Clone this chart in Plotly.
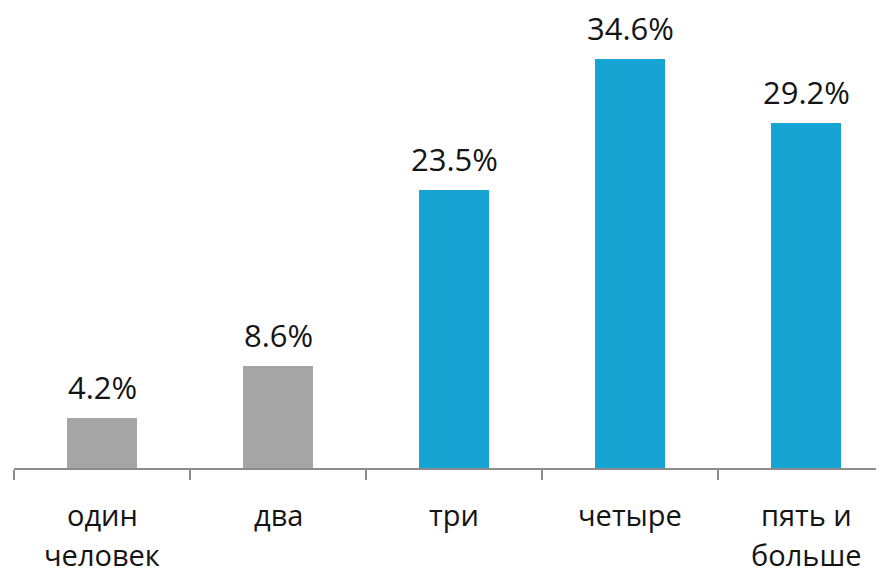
import plotly.graph_objects as go

categories = ["один\nчеловек", "два", "три", "четыре", "пять и\nбольше"]
values = [4.2, 8.6, 23.5, 34.6, 29.2]
value_labels = ["4.2%", "8.6%", "23.5%", "34.6%", "29.2%"]
bar_colors = ["#A5A5A5", "#A5A5A5", "#18A4D2", "#18A4D2", "#18A4D2"]

FONT = "Open Sans, DejaVu Sans, sans-serif"
TXT = "#141414"

# page body has an 8px default margin; figure sized to fill the rest
W, H = 876, 561
PLOT_W = 870
PLOT_H = 460
PX_PER_UNIT = 11.82

fig = go.Figure()
fig.add_trace(go.Bar(
    x=list(range(len(categories))),
    y=values,
    marker=dict(color=bar_colors, line=dict(width=0)),
    width=0.4,
    hoverinfo="skip",
))

annotations = []
for i, (v, lab) in enumerate(zip(values, value_labels)):
    annotations.append(dict(
        x=i, y=v, xref="x", yref="y", text=lab, showarrow=False,
        yanchor="bottom", yshift=8,
        font=dict(family=FONT, size=31, color=TXT),
    ))
for i, cat in enumerate(categories):
    for j, line in enumerate(cat.split("\n")):
        annotations.append(dict(
            x=i, y=0, xref="x", yref="paper", text=line, showarrow=False,
            yanchor="middle", yshift=-46 - 40 * j,
            font=dict(family=FONT, size=29, color=TXT),
        ))

fig.update_layout(
    width=W, height=H,
    margin=dict(l=W - PLOT_W, r=0, t=0, b=H - PLOT_H, autoexpand=False),
    paper_bgcolor="white", plot_bgcolor="white",
    showlegend=False,
    bargap=0,
    annotations=annotations,
    xaxis=dict(
        type="category",
        range=[-0.5, -0.5 + PLOT_W / 176],
        showticklabels=False,
        showgrid=False, zeroline=False,
        showline=True, linecolor="#8C8C8C", linewidth=1.5,
        ticks="outside", ticklen=10, tickcolor="#8C8C8C", tickwidth=1.5,
        tickson="boundaries",
    ),
    yaxis=dict(
        range=[0, PLOT_H / PX_PER_UNIT],
        visible=False,
    ),
)

fig.write_html("out.html")
